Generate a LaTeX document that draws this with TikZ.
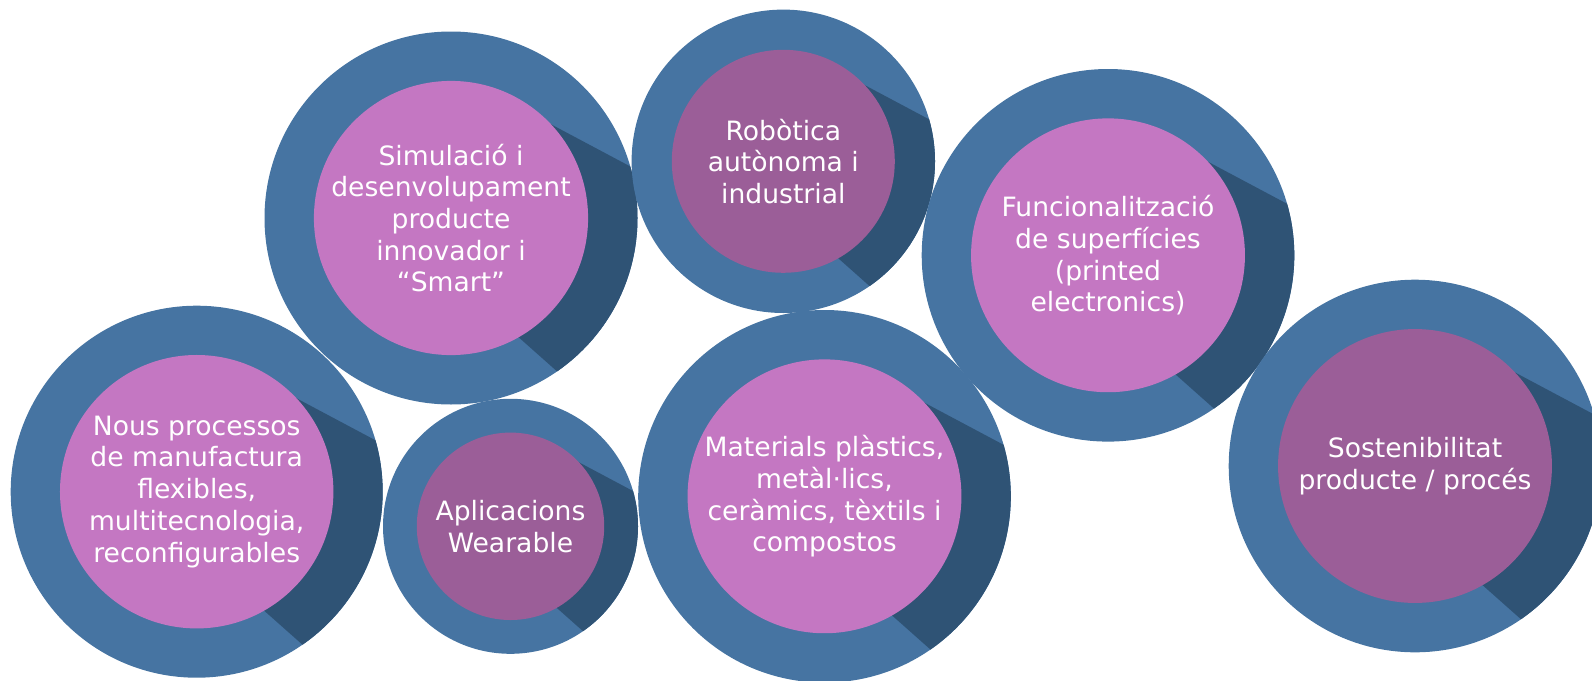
\documentclass[tikz,border=0pt]{standalone}
\usepackage{fontspec}
\setmainfont{DejaVu Sans}
\definecolor{outerblue}{RGB}{70,116,162}
\definecolor{shadowblue}{RGB}{47,83,117}
\definecolor{pinkin}{RGB}{196,119,194}
\definecolor{purplein}{RGB}{155,94,152}
\newcommand\bubblefont{\fontsize{26.6pt}{31.7pt}\selectfont}
\tikzset{
  ring/.style={fill=outerblue},
  ringshadow/.style={fill=shadowblue},
  core/.style={inner sep=0pt, text=white, align=center, font=\bubblefont}
}
% name, x, y, R, inner colour, text
\newcommand\bubble[6]{%
  \begin{scope}[shift={(#2,#3)}]
    \fill[ring] (0,0) circle (#4);
    \begin{scope}
      \clip (0,0) circle (#4);
      \fill[ringshadow] (0.3*#4,-0.628*#4) -- (2.066*#4,0.311*#4) -- (1.795*#4,1.911*#4) -- (0.3*#4,0.584*#4) -- cycle;
    \end{scope}
    \fill[#5] (0,0) circle (0.735*#4);
    \node[core] (#1) at (0,0) {#6};
  \end{scope}}
\begin{document}
\begin{tikzpicture}[x=1pt,y=-1pt]
\useasboundingbox (0,0) rectangle (1592,680);
\bubble{sim}{451}{218}{186.5}{pinkin}{Simulació i\\desenvolupament\\producte\\innovador i\\“Smart”}
\bubble{rob}{783.3}{161.3}{151.7}{purplein}{Robòtica\\autònoma i\\industrial}
\bubble{fun}{1108}{255.3}{186.3}{pinkin}{Funcionalització\\de superfícies\\(printed\\electronics)}
\bubble{nous}{196.7}{491.7}{186}{pinkin}{Nous processos\\de manufactura\\flexibles,\\multitecnologia,\\reconfigurables}
\bubble{apl}{510.5}{526.3}{127.5}{purplein}{Aplicacions\\Wearable}
\bubble{mat}{824.5}{496.3}{186.3}{pinkin}{Materials plàstics,\\metàl·lics,\\ceràmics, tèxtils i\\compostos}
\bubble{sos}{1415}{466}{186.3}{purplein}{Sostenibilitat\\producte / procés}
\end{tikzpicture}
\end{document}
